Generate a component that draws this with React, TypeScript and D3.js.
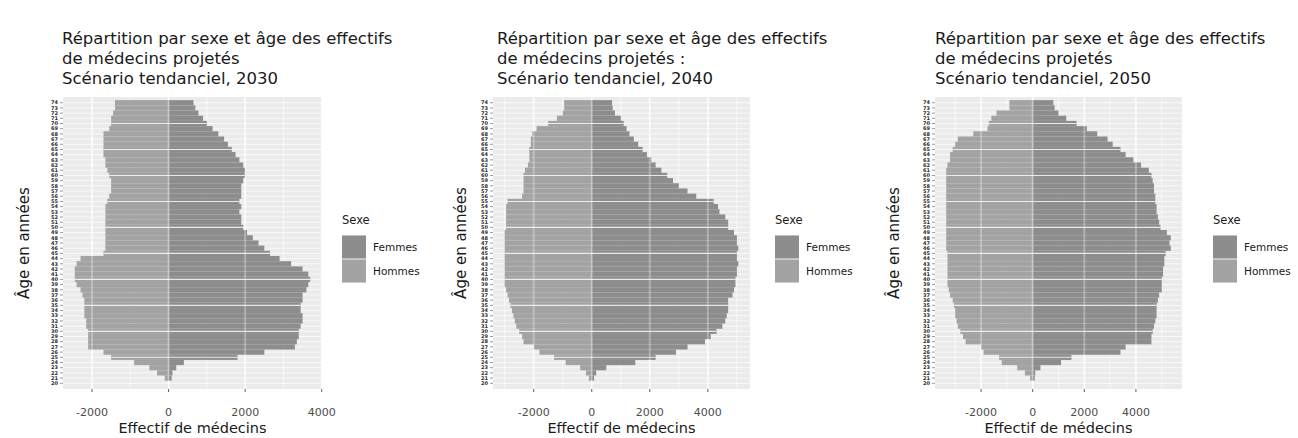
import React from 'react';
import * as d3 from 'd3';

// age classes, oldest first (top of the pyramid)
const AGES = [74, 73, 72, 71, 70, 69, 68, 67, 66, 65, 64, 63, 62, 61, 60, 59, 58, 57, 56, 55, 54, 53, 52, 51, 50,
  49, 48, 47, 46, 45, 44, 43, 42, 41, 40, 39, 38, 37, 36, 35, 34, 33, 32, 31, 30, 29, 28, 27, 26, 25, 24, 23, 22, 21, 20];

const HOMMES_2030 = [1400, 1400, 1450, 1500, 1500, 1550, 1700, 1700, 1700, 1700, 1700, 1650, 1650, 1600, 1550, 1500, 1500, 1500, 1550, 1600, 1650, 1650, 1650, 1650, 1650,
  1650, 1650, 1650, 1650, 1700, 2300, 2400, 2450, 2450, 2450, 2400, 2300, 2250, 2200, 2200, 2200, 2200, 2150, 2150, 2100, 2100, 2100, 2100, 1700, 1500, 900, 500, 300, 100, 0];
const FEMMES_2030 = [650, 700, 780, 900, 1000, 1150, 1300, 1450, 1550, 1650, 1750, 1850, 1950, 2000, 2000, 1950, 1900, 1900, 1900, 1850, 1900, 1850, 1900, 1900, 1950,
  2050, 2200, 2350, 2500, 2650, 2900, 3200, 3500, 3650, 3700, 3650, 3600, 3500, 3500, 3450, 3450, 3500, 3500, 3450, 3400, 3400, 3350, 3300, 2500, 1800, 400, 200, 100, 80, 0];

const HOMMES_2040 = [950, 950, 1000, 1200, 1500, 1900, 2050, 2100, 2100, 2150, 2150, 2150, 2200, 2300, 2350, 2350, 2350, 2350, 2400, 2900, 2950, 2950, 2950, 2950, 2950,
  3000, 3000, 3000, 3000, 3000, 3000, 3000, 3000, 3000, 3000, 3000, 2950, 2900, 2850, 2800, 2750, 2700, 2650, 2600, 2500, 2400, 2350, 2000, 1800, 1300, 900, 400, 200, 100, 0];
const FEMMES_2040 = [700, 720, 800, 1000, 1100, 1200, 1300, 1450, 1600, 1750, 1900, 2050, 2200, 2400, 2600, 2800, 3000, 3300, 3600, 4200, 4350, 4400, 4600, 4700, 4700,
  4900, 5000, 5000, 5050, 5000, 5000, 5050, 5000, 5000, 4950, 4950, 4900, 4850, 4700, 4700, 4700, 4650, 4600, 4500, 4300, 4100, 3900, 3300, 2900, 2200, 1500, 500, 150, 80, 0];

const HOMMES_2050 = [900, 900, 1400, 1600, 1700, 1750, 2300, 2900, 3000, 3100, 3200, 3200, 3300, 3350, 3350, 3350, 3350, 3350, 3350, 3350, 3350, 3350, 3350, 3350, 3350,
  3350, 3350, 3350, 3350, 3300, 3300, 3300, 3300, 3300, 3300, 3300, 3250, 3200, 3100, 3050, 3000, 3000, 2950, 2900, 2800, 2700, 2600, 2000, 1900, 1300, 1200, 600, 300, 100, 0];
const FEMMES_2050 = [800, 850, 1000, 1300, 1700, 2100, 2500, 2900, 3100, 3400, 3600, 3900, 4200, 4500, 4600, 4650, 4700, 4700, 4750, 4750, 4800, 4800, 4850, 4900, 4950,
  5200, 5350, 5300, 5350, 5150, 5100, 5100, 5050, 5050, 5000, 5000, 5000, 4900, 4850, 4800, 4800, 4800, 4750, 4700, 4650, 4600, 4600, 3600, 3400, 1500, 1100, 300, 100, 80, 0];

const X_TICKS = [-2000, 0, 2000, 4000];
const X_MINOR = [-3000, -1000, 1000, 3000, 5000];
const SEXES = ['Femmes', 'Hommes'];
const YEARS = ['2030', '2040', '2050'];

const COL_F = '#8d8d8d';
const COL_H = '#a3a3a3';
const FONT = '"DejaVu Sans", Verdana, sans-serif';

const panels = [
  { year: YEARS[0], hommes: HOMMES_2030, femmes: FEMMES_2030, x0: 63, x1: 322, titleX: 62, yTitleX: 29, legendX: 342,
    title: ['Répartition par sexe et âge des effectifs', 'de médecins projetés', 'Scénario tendanciel, ' + YEARS[0]] },
  { year: YEARS[1], hommes: HOMMES_2040, femmes: FEMMES_2040, x0: 493, x1: 750, titleX: 497, yTitleX: 466, legendX: 775,
    title: ['Répartition par sexe et âge des effectifs', 'de médecins projetés :', 'Scénario tendanciel, ' + YEARS[1]] },
  { year: YEARS[2], hommes: HOMMES_2050, femmes: FEMMES_2050, x0: 935, x1: 1182, titleX: 935, yTitleX: 899, legendX: 1213,
    title: ['Répartition par sexe et âge des effectifs', 'de médecins projetés', 'Scénario tendanciel, ' + YEARS[2]] },
];

const TOP = 97;
const BOTTOM = 389;

const Pyramid = ({ p }) => {
  const lo = -d3.max(p.hommes);
  const hi = d3.max(p.femmes);
  const pad = (hi - lo) * 0.05;
  const x = d3.scaleLinear().domain([lo - pad, hi + pad]).range([p.x0, p.x1]);
  const y = d3.scaleBand().domain(AGES.map(String)).range([TOP, BOTTOM]).paddingInner(0).paddingOuter(0.6);
  const bw = y.bandwidth();
  const midY = (TOP + BOTTOM) / 2;
  const cy = a => y(String(a)) + bw / 2;

  return (
    <g>
      {p.title.map((t, i) => (
        <text key={i} x={p.titleX} y={44 + i * 20} fontSize={16.5} fill="#1a1a1a" fontFamily={FONT}>{t}</text>
      ))}
      <rect x={p.x0} y={TOP} width={p.x1 - p.x0} height={BOTTOM - TOP} fill="#ebebeb" />
      {X_MINOR.filter(v => x(v) > p.x0 && x(v) < p.x1).map(v => (
        <line key={'m' + v} x1={x(v)} x2={x(v)} y1={TOP} y2={BOTTOM} stroke="#fff" strokeWidth={0.6} />
      ))}
      {X_TICKS.map(v => (
        <line key={'g' + v} x1={x(v)} x2={x(v)} y1={TOP} y2={BOTTOM} stroke="#fff" strokeWidth={1.2} />
      ))}
      {AGES.map(a => (
        <line key={'h' + a} x1={p.x0} x2={p.x1} y1={cy(a)} y2={cy(a)} stroke="#fff" strokeWidth={0.7} />
      ))}
      {AGES.map((a, i) => (
        <g key={'b' + a}>
          <rect x={x(-p.hommes[i])} y={y(String(a))} width={x(0) - x(-p.hommes[i])} height={bw} fill={COL_H} />
          <rect x={x(0)} y={y(String(a))} width={x(p.femmes[i]) - x(0)} height={bw} fill={COL_F} />
        </g>
      ))}
      {AGES.map((a, i) => (a % 5 === 0 ? (
        <line key={'w' + a} x1={x(-p.hommes[i])} x2={x(p.femmes[i])} y1={cy(a)} y2={cy(a)}
          stroke="#fff" strokeOpacity={0.8} strokeWidth={1.1} />
      ) : null))}
      {X_TICKS.map(v => (
        <line key={'v' + v} x1={x(v)} x2={x(v)} y1={TOP} y2={BOTTOM} stroke="#fff" strokeOpacity={0.3} strokeWidth={2} />
      ))}
      {/* y axis: one label per age class, dense as in the source */}
      {AGES.map(a => (
        <g key={'t' + a}>
          <line x1={p.x0 - 3} x2={p.x0} y1={cy(a)} y2={cy(a)} stroke="#333" strokeWidth={0.5} />
          <text x={p.x0 - 5} y={cy(a)} dy="0.35em" textAnchor="end" fontSize={5} fontWeight="bold" fill="#2a2a2a" fontFamily={FONT}>{a}</text>
        </g>
      ))}
      <text transform={`translate(${p.yTitleX},${midY}) rotate(-90)`} textAnchor="middle" fontSize={15} fill="#1a1a1a" fontFamily={FONT}>Âge en années</text>
      {/* x axis */}
      {X_TICKS.map(v => (
        <g key={'x' + v}>
          <line x1={x(v)} x2={x(v)} y1={BOTTOM} y2={BOTTOM + 3} stroke="#333" strokeWidth={0.8} />
          <text x={x(v)} y={BOTTOM + 27} textAnchor="middle" fontSize={11} fill="#4d4d4d" fontFamily={FONT}>{v}</text>
        </g>
      ))}
      <text x={(p.x0 + p.x1) / 2} y={433} textAnchor="middle" fontSize={14.5} fill="#1a1a1a" fontFamily={FONT}>Effectif de médecins</text>
      {/* legend */}
      <text x={p.legendX} y={224} fontSize={11.5} fill="#1a1a1a" fontFamily={FONT}>Sexe</text>
      {SEXES.map((s, i) => (
        <g key={s}>
          <rect x={p.legendX} y={235 + i * 24} width={24} height={24} fill="#f2f2f2" />
          <rect x={p.legendX} y={235 + i * 24 + 0.5} width={24} height={23} fill={i === 0 ? COL_F : COL_H} />
          <text x={p.legendX + 31} y={235 + i * 24 + 12} dy="0.35em" fontSize={10.5} fill="#1a1a1a" fontFamily={FONT}>{s}</text>
        </g>
      ))}
    </g>
  );
};

export default function App() {
  return (
    <div style={{ position: 'fixed', left: 0, top: 0 }}>
      <svg width={1298} height={438} style={{ display: 'block', background: '#fff' }}>
        {panels.map(p => <Pyramid key={p.year} p={p} />)}
      </svg>
    </div>
  );
}
